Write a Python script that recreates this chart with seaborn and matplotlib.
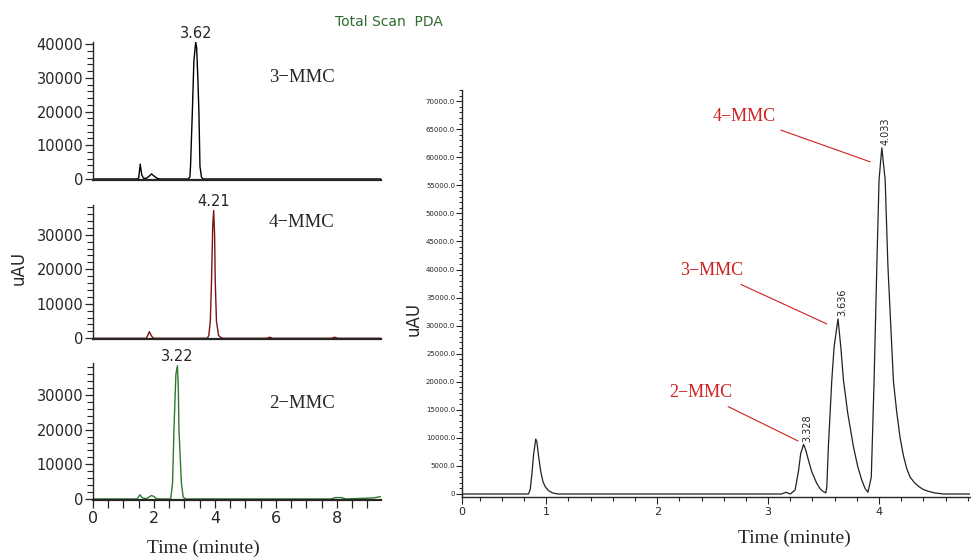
import numpy as np
import pandas as pd
import seaborn as sns
import matplotlib
matplotlib.use('Agg')
import matplotlib.pyplot as plt
from matplotlib.ticker import MultipleLocator, FixedLocator, FuncFormatter

# ---- datos ----
# 3-MMC (panel superior, negro)
t_3mmc = [0.0, 1.45, 1.50, 1.55, 1.60, 1.66, 1.75, 1.85, 1.92, 2.00, 2.10, 2.20,
          3.12, 3.18, 3.20, 3.26, 3.31, 3.37, 3.40, 3.44, 3.475, 3.51, 3.56, 3.62, 9.45]
y_3mmc = [0, 0, 300, 4400, 1200, 200, 200, 900, 1500, 900, 200, 0,
          0, 600, 3700, 20000, 35000, 40600, 39000, 30000, 20000, 3700, 500, 0, 0]

# 4-MMC (panel medio, rojo oscuro)
t_4mmc = [0.0, 1.75, 1.80, 1.85, 1.90, 1.95, 2.00, 3.75, 3.80, 3.85, 3.89, 3.93,
          3.96, 3.99, 4.01, 4.05, 4.12, 4.18, 4.25, 5.70, 5.80, 5.90, 7.83, 7.93,
          8.03, 9.45]
y_4mmc = [0, 0, 900, 1900, 1000, 300, 0, 0, 800, 5000, 17000, 33000,
          37000, 30000, 17000, 5000, 800, 300, 0, 0, 300, 0, 0, 300,
          0, 0]

# 2-MMC (panel inferior, verde)
t_2mmc = [0.0, 1.45, 1.54, 1.62, 1.75, 1.85, 1.92, 2.00, 2.10, 2.55, 2.61, 2.656,
          2.72, 2.77, 2.80, 2.82, 2.90, 2.96, 3.05, 7.80, 7.95, 8.15, 8.30, 9.20, 9.45]
y_2mmc = [0, 0, 1200, 300, 100, 600, 1000, 700, 0, 0, 4600, 19900,
          36000, 38400, 32000, 19900, 4600, 500, 0, 0, 400, 400, 0, 300, 700]

# mezcla (panel derecho)
t_mix = [0.24, 0.84, 0.855, 0.87, 0.885, 0.905, 0.915, 0.93, 0.95, 0.97, 0.99, 1.02,
         1.05, 1.08, 1.11, 3.12, 3.16, 3.20, 3.243, 3.273, 3.294, 3.32, 3.34, 3.363,
         3.393, 3.438, 3.47, 3.498, 3.52, 3.529, 3.543, 3.574, 3.595, 3.63, 3.655, 3.679,
         3.718, 3.769, 3.808, 3.844, 3.874, 3.90, 3.93, 3.955, 3.98, 4.00, 4.025, 4.055,
         4.08, 4.13, 4.16, 4.19, 4.22, 4.25, 4.28, 4.32, 4.36, 4.40, 4.45, 4.50,
         4.58, 4.82]
y_mix = [0, 0, 800, 3500, 7000, 9800, 9300, 6800, 4000, 2200, 1300, 600,
         250, 80, 0, 0, 300, 0, 700, 4000, 7250, 8850, 7800, 6060,
         4000, 1900, 900, 420, 200, 1250, 8400, 20300, 26250, 31200, 26250, 20300,
         14380, 8430, 4870, 2500, 1000, 300, 3000, 20000, 40600, 56000, 61700, 56000,
         40600, 20000, 14500, 10000, 6800, 4500, 3000, 2000, 1300, 800, 450, 200,
         0, 0]

etiquetas_pico = ['3.62', '4.21', '3.22']
nombres = ['3\u2212MMC', '4\u2212MMC', '2\u2212MMC']
etiquetas_mix = ['3.328', '3.636', '4.033']
x_tick_labels_mix = ['0', '1', '2', '3', '4']

sns.set_style('ticks')
plt.rcParams['font.family'] = ['DejaVu Sans']

W, H = 971, 557
fig = plt.figure(figsize=(W / 100, H / 100), dpi=100)


def ejes_px(left, right, top, bottom):
    return fig.add_axes([left / W, 1 - bottom / H, (right - left) / W, (bottom - top) / H])


rojo = '#cc2222'
serif = 'Liberation Serif'

paneles = [
    (t_3mmc, y_3mmc, 'black', (42, 180), (-300, 40600), 0.746),
    (t_4mmc, y_4mmc, '#7a1212', (205, 339.3), (-300, 38600), 0.866),
    (t_2mmc, y_2mmc, '#2d7a2d', (363.4, 500), (-300, 39100), 0.71),
]

ejes_izq = []
for i, (t, y, color, (top, bottom), ylim, ytxt) in enumerate(paneles):
    ax = ejes_px(93, 381, top, bottom)
    df = pd.DataFrame({'t': t, 'y': y})
    sns.lineplot(data=df, x='t', y='y', color=color, linewidth=1.0, ax=ax)
    ax.set_xlim(0, 9.45)
    ax.set_ylim(*ylim)
    sns.despine(ax=ax)
    ax.spines['left'].set_linewidth(1.0)
    ax.spines['bottom'].set_linewidth(1.6)
    ax.yaxis.set_major_locator(MultipleLocator(10000))
    ax.yaxis.set_minor_locator(MultipleLocator(2000))
    ax.tick_params(axis='y', which='major', length=6, width=0.9, labelsize=10.5, pad=1)
    ax.tick_params(axis='y', which='minor', length=4, width=0.8)
    ax.set_xlabel('')
    ax.set_ylabel('')
    # etiqueta del pico mayor
    k = int(np.argmax(y))
    ax.annotate(etiquetas_pico[i], xy=(t[k], y[k]), xytext=(0, 1), textcoords='offset points',
                ha='center', va='bottom', fontsize=10.5, annotation_clip=False)
    ax.text(0.61, ytxt, nombres[i], transform=ax.transAxes, fontsize=13.5,
            family=serif, ha='left', va='center')
    if i < 2:
        ax.tick_params(axis='x', which='both', bottom=False, labelbottom=False)
    else:
        ax.xaxis.set_major_locator(MultipleLocator(2))
        ax.xaxis.set_minor_locator(MultipleLocator(0.5))
        ax.tick_params(axis='x', which='both', length=6, width=0.9, labelsize=11.5, pad=2)
        ax.set_xlabel('Time (minute)', fontsize=14, family=serif)
        ax.xaxis.set_label_coords(0.384, -0.29)
    ejes_izq.append(ax)

ejes_izq[1].set_ylabel('uAU', fontsize=12)
ejes_izq[1].yaxis.set_label_coords(-0.226, 0.53)

fig.text(335 / W, 1 - 22 / H, 'Total Scan  PDA', color='#2e6b2e', fontsize=10,
         ha='left', va='center')

# panel derecho
ax = ejes_px(462, 970, 90, 497)
df = pd.DataFrame({'t': t_mix, 'y': y_mix})
sns.lineplot(data=df, x='t', y='y', color='#222222', linewidth=0.9, ax=ax)
ax.set_xlim(0.24, 4.82)
ax.set_ylim(-535, 72000)
sns.despine(ax=ax)
ax.spines['left'].set_linewidth(1.0)
ax.spines['bottom'].set_linewidth(1.0)
ax.xaxis.set_major_locator(FixedLocator([0.24, 1, 2, 3, 4]))
ax.set_xticklabels(x_tick_labels_mix)
ax.xaxis.set_minor_locator(MultipleLocator(0.2))
ax.yaxis.set_major_locator(MultipleLocator(5000))
ax.yaxis.set_minor_locator(MultipleLocator(1000))
ax.yaxis.set_major_formatter(FuncFormatter(lambda v, p: '0' if v == 0 else f'{v:.1f}'))
ax.tick_params(axis='x', which='major', length=5, width=0.8, labelsize=8, pad=2)
ax.tick_params(axis='x', which='minor', length=3, width=0.8)
ax.tick_params(axis='y', which='major', length=4, width=0.8, labelsize=5, pad=1)
ax.tick_params(axis='y', which='minor', length=2.5, width=0.7)
ax.set_xlabel('Time (minute)', fontsize=14, family=serif)
ax.xaxis.set_label_coords(0.655, -0.08)
ax.set_ylabel('uAU', fontsize=12)
ax.yaxis.set_label_coords(-0.077, 0.437)

# etiquetas verticales de los picos
t_arr = np.array(t_mix)
y_arr = np.array(y_mix)
ventanas = [(3.2, 3.5), (3.5, 3.85), (3.9, 4.3)]
for lab, (a, b) in zip(etiquetas_mix, ventanas):
    m = (t_arr > a) & (t_arr < b)
    k = np.argmax(np.where(m, y_arr, -1))
    ax.annotate(lab, xy=(t_arr[k], y_arr[k]), xytext=(3, 2), textcoords='offset points',
                rotation=90, ha='center', va='bottom', fontsize=7)

# nombres en rojo con lineas guia
guias = [
    ('4\u2212MMC', (2.78, 67200), (3.92, 59200)),
    ('3\u2212MMC', (2.49, 39750), (3.53, 30300)),
    ('2\u2212MMC', (2.39, 18000), (3.27, 9450)),
]
for texto, pos_txt, pos_pt in guias:
    ax.annotate(texto, xy=pos_pt, xytext=pos_txt, color=rojo, fontsize=13, family=serif,
                ha='center', va='center',
                arrowprops=dict(arrowstyle='-', color=rojo, lw=0.8, shrinkA=3, shrinkB=0))

fig.savefig('out.png', dpi=100)
